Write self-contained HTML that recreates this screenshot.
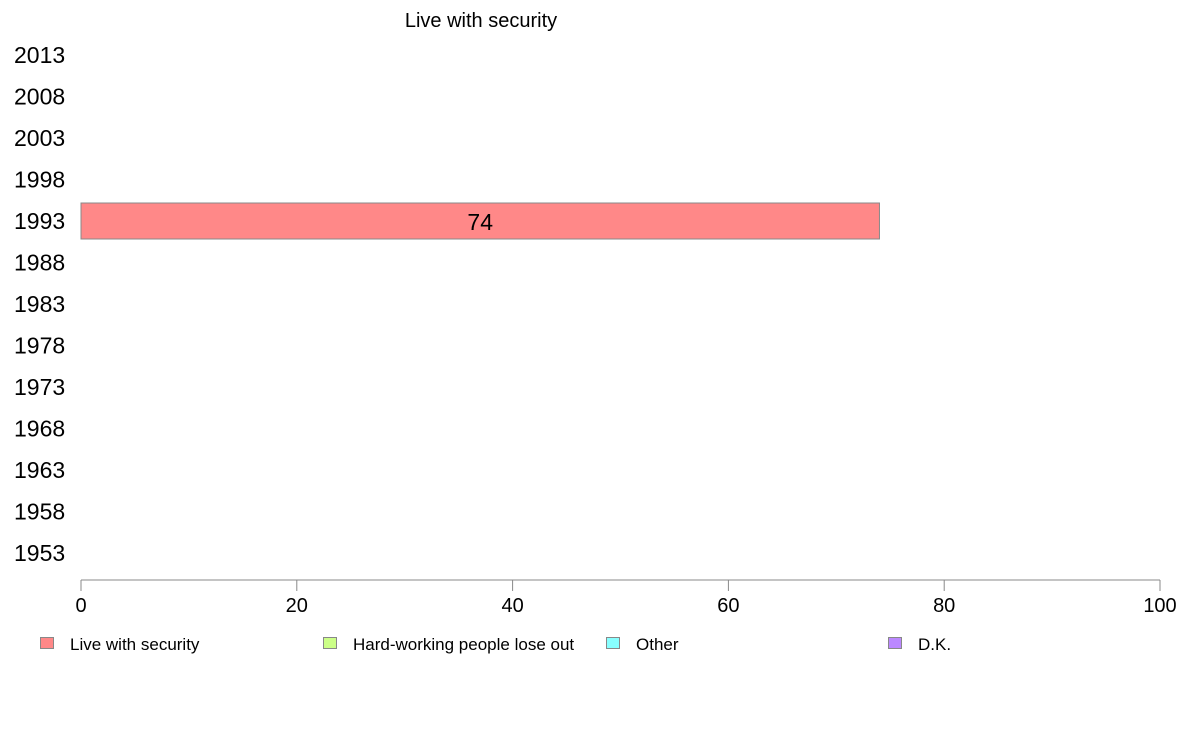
<!DOCTYPE html>
<html><head><meta charset="utf-8"><style>
body{margin:0;background:#fff;font-family:"Liberation Sans",Arial,sans-serif;}
svg text{font-family:"Liberation Sans",Arial,sans-serif;}
</style></head><body>
<svg width="1188" height="736" id="c">
<text x="481" y="27" font-size="20" text-anchor="middle">Live with security</text>
</svg>
<script>
const years=["2013","2008","2003","1998","1993","1988","1983","1978","1973","1968","1963","1958","1953"];
const seriesNames=["Live with security","Hard-working people lose out","Other","D.K."];
const seriesColors=["#ff8888","#ccff88","#88ffff","#bb88ff"];
const liveValues=[null,null,null,null,74,null,null,null,null,null,null,null,null];
const xTicks=[0,20,40,60,80,100];
const svg=document.getElementById('c');const NS="http://www.w3.org/2000/svg";
function x(v){return 81+v*(1160-81)/100;}
function y(i){return 55+i*41.5;}
function mk(t,a,txt){const e=document.createElementNS(NS,t);for(const k in a)e.setAttribute(k,a[k]);if(txt!=null)e.textContent=txt;svg.appendChild(e);return e;}
years.forEach((yr,i)=>{const t=mk('text',{x:14,y:y(i)+8,'font-size':23},yr);

});
liveValues.forEach((v,i)=>{if(v==null)return;
const r=mk('rect',{x:x(0),y:y(i)-18,width:x(v)-x(0),height:36,fill:seriesColors[0],stroke:'#888','stroke-width':1});


const t=mk('text',{x:(x(0)+x(v))/2,y:y(i)+9,'font-size':23,'text-anchor':'middle'},String(v));

});
const ax=mk('line',{x1:x(0),x2:x(100),y1:580,y2:580,stroke:'#888'});


xTicks.forEach(v=>{const l=mk('line',{x1:x(v),x2:x(v),y1:580,y2:591,stroke:'#888'});


const t=mk('text',{x:x(v),y:612,'font-size':20,'text-anchor':'middle'},String(v));

});
const lx=[40,323,606,888];
seriesNames.forEach((n,i)=>{const r=mk('rect',{x:lx[i]+0.5,y:637.5,width:13,height:11,fill:seriesColors[i],stroke:'#888'});


const t=mk('text',{x:lx[i]+30,y:650,'font-size':17},n);

});
</script>
</body></html>
